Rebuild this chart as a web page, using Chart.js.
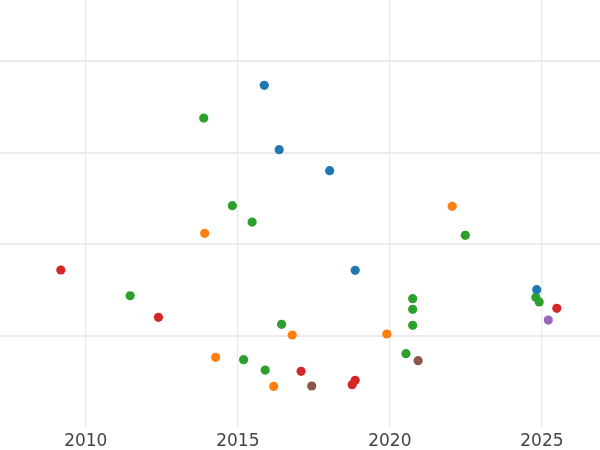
<!DOCTYPE html>
<html>
<head>
<meta charset="utf-8">
<script src="https://cdn.jsdelivr.net/npm/chart.js@4/dist/chart.umd.min.js"></script>
<style>
  html, body { margin: 0; padding: 0; background: #ffffff; }
  #wrap { width: 600px; height: 450px; }
</style>
</head>
<body>
<div id="wrap"><canvas id="c" width="600" height="450"></canvas></div>
<script>
// Data (x = year, y = value in arbitrary units)
const blueX   = [2015.87, 2016.36, 2018.02, 2018.86, 2024.83];
const blueY   = [27.34, 20.32, 18.03, 7.16, 5.05];
const orangeX = [2013.91, 2022.05, 2014.27, 2016.79, 2016.18, 2019.90];
const orangeY = [11.20, 14.14, -2.32, 0.11, -5.49, 0.22];
const greenX  = [2013.88, 2014.82, 2015.47, 2011.46, 2016.44, 2015.19, 2015.90, 2022.48, 2020.75, 2020.75, 2020.75, 2020.53, 2024.80, 2024.91];
const greenY  = [23.77, 14.21, 12.43, 4.39, 1.28, -2.58, -3.71, 10.98, 4.07, 2.91, 1.17, -1.93, 4.22, 3.71];
const redX    = [2009.18, 2012.39, 2017.08, 2018.76, 2018.86, 2025.49];
const redY    = [7.20, 2.04, -3.85, -5.31, -4.83, 3.02];
const brownX  = [2020.93, 2017.43];
const brownY  = [-2.69, -5.45];
const purpleX = [2025.21];
const purpleY = [1.74];

const xTicks = [2010, 2015, 2020, 2025];
const yGrid  = [0, 10, 20, 30];

const pts = (xs, ys) => xs.map((x, i) => ({ x: x, y: ys[i] }));
const ds = (xs, ys, color) => ({
  data: pts(xs, ys),
  backgroundColor: color,
  borderColor: color,
  borderWidth: 0,
  pointRadius: 4.6,
  pointHoverRadius: 4.6
});

new Chart(document.getElementById('c'), {
  type: 'scatter',
  data: {
    datasets: [
      ds(blueX, blueY, '#1f77b4'),
      ds(orangeX, orangeY, '#ff7f0e'),
      ds(greenX, greenY, '#2ca02c'),
      ds(redX, redY, '#d62728'),
      ds(brownX, brownY, '#8c564b'),
      ds(purpleX, purpleY, '#9467bd')
    ]
  },
  options: {
    responsive: false,
    animation: false,
    devicePixelRatio: 1,
    layout: { padding: 0, autoPadding: false },
    plugins: { legend: { display: false }, tooltip: { enabled: false } },
    scales: {
      x: {
        type: 'linear',
        min: 2007.18,
        max: 2026.91,
        afterBuildTicks: (s) => { s.ticks = xTicks.map(v => ({ value: v })); },
        afterFit: (s) => { s.height = 23; },
        border: { display: false },
        grid: { color: '#ebebeb', lineWidth: 1.4, drawTicks: false },
        ticks: {
          padding: 4,
          color: '#444444',
          font: { family: 'DejaVu Sans', size: 17 },
          callback: (v) => String(v)
        }
      },
      y: {
        type: 'linear',
        min: -9.92,
        max: 36.64,
        afterBuildTicks: (s) => { s.ticks = yGrid.map(v => ({ value: v })); },
        border: { display: false },
        grid: { color: '#ebebeb', lineWidth: 2, drawTicks: false },
        ticks: { display: false }
      }
    }
  }
});
</script>
</body>
</html>
